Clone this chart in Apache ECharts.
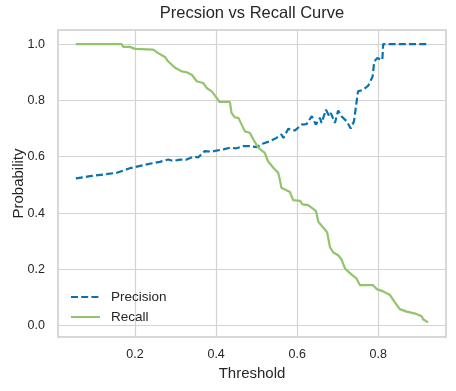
<!DOCTYPE html>
<html>
<head>
<meta charset="utf-8">
<script src="https://cdn.jsdelivr.net/npm/echarts@6/dist/echarts.min.js"></script>
<style>html,body{margin:0;padding:0;background:#fff}#c{width:456px;height:391px}</style>
</head>
<body>
<div id="c"></div>
<script>
const precisionT = [0.054,0.089,0.155,0.187,0.229,0.261,0.282,0.294,0.311,0.327,0.344,0.356,0.372,0.389,0.401,0.418,0.434,0.45,0.467,0.483,0.5,0.516,0.533,0.549,0.561,0.566,0.578,0.594,0.611,0.623,0.636,0.646,0.656,0.66,0.671,0.679,0.683,0.693,0.701,0.709,0.722,0.732,0.74,0.75,0.763,0.775,0.786,0.79,0.797,0.81,0.812,0.923];
const precisionV = [0.523,0.531,0.543,0.559,0.573,0.582,0.59,0.585,0.59,0.59,0.6,0.598,0.62,0.618,0.622,0.626,0.632,0.63,0.638,0.638,0.634,0.647,0.655,0.667,0.679,0.667,0.699,0.693,0.714,0.716,0.744,0.714,0.738,0.72,0.767,0.744,0.755,0.72,0.764,0.744,0.726,0.7,0.726,0.832,0.838,0.852,0.885,0.938,0.95,0.944,1.0,1.0];
const recallT = [0.054,0.167,0.171,0.187,0.2,0.245,0.257,0.274,0.282,0.298,0.315,0.327,0.34,0.352,0.368,0.377,0.389,0.397,0.408,0.434,0.438,0.446,0.455,0.463,0.471,0.483,0.492,0.504,0.52,0.528,0.541,0.553,0.557,0.561,0.582,0.59,0.607,0.613,0.627,0.646,0.652,0.664,0.674,0.681,0.689,0.701,0.709,0.718,0.726,0.738,0.746,0.755,0.787,0.796,0.812,0.829,0.841,0.853,0.87,0.894,0.907,0.911,0.923];
const recallV = [1.0,1.0,0.99,0.99,0.983,0.98,0.968,0.954,0.938,0.917,0.903,0.9,0.891,0.868,0.862,0.844,0.832,0.818,0.795,0.795,0.756,0.74,0.738,0.714,0.69,0.685,0.661,0.632,0.614,0.584,0.561,0.543,0.52,0.49,0.475,0.446,0.443,0.431,0.428,0.408,0.369,0.349,0.331,0.278,0.26,0.25,0.236,0.203,0.192,0.177,0.168,0.144,0.144,0.13,0.122,0.109,0.083,0.059,0.05,0.042,0.034,0.022,0.012];
const xTicks = [0.2,0.4,0.6,0.8];
const yTicks = [0.0,0.2,0.4,0.6,0.8,1.0];
const seriesNames = ['Precision','Recall'];

const font = 'Liberation Sans';
const txt = '#262626';
const zip = (a,b) => a.map((v,i)=>[v,b[i]]);
const gridLines = xTicks.map(v=>({xAxis:v})).concat(yTicks.map(v=>({yAxis:v})));

const chart = echarts.init(document.getElementById('c'), null, {renderer:'canvas'});
chart.setOption({
  animation:false,
  backgroundColor:'#ffffff',
  title:{text:'Precsion vs Recall Curve', left:252, top:5, padding:0, textAlign:'center',
    textStyle:{fontFamily:font, fontSize:16.5, fontWeight:'normal', color:txt}},
  grid:{left:58, right:10, top:30, bottom:54, outerBoundsMode:'none', containLabel:false,
    show:true, borderColor:'#cccccc', borderWidth:1.5, backgroundColor:'#fff'},
  legend:{data:seriesNames, orient:'vertical', left:70, top:290, padding:0, itemWidth:29, itemHeight:14, itemGap:6,
    itemStyle:{opacity:0},
    textStyle:{fontFamily:font, fontSize:13.5, color:txt, padding:[0,0,0,6]}},
  xAxis:{type:'value', min:0.01, max:0.967,
    name:'Threshold', nameLocation:'middle', nameGap:29, nameMoveOverlap:false,
    nameTextStyle:{fontFamily:font, fontSize:15, color:txt},
    axisLine:{show:false}, axisTick:{show:false}, splitLine:{show:false},
    axisLabel:{customValues:xTicks, formatter:v=>v.toFixed(1), margin:11, fontFamily:font, fontSize:12.5, color:txt}},
  yAxis:{type:'value', min:-0.04, max:1.05,
    name:'Probability', nameLocation:'middle', nameGap:32, nameMoveOverlap:false,
    nameTextStyle:{fontFamily:font, fontSize:15, color:txt},
    axisLine:{show:false}, axisTick:{show:false}, splitLine:{show:false},
    axisLabel:{customValues:yTicks, formatter:v=>v.toFixed(1), margin:13, fontFamily:font, fontSize:12.5, color:txt}},
  series:[
    {name:'grid', type:'line', data:[], z:0, silent:true,
      markLine:{z:0, silent:true, symbol:['none','none'], label:{show:false}, animation:false,
        lineStyle:{color:'#d3d3d3', width:1.2, type:'solid'}, emphasis:{disabled:true}, data:gridLines}},
    {name:seriesNames[0], type:'line', data:zip(precisionT, precisionV), symbol:'none', z:3,
      lineStyle:{color:'#0A72AE', width:2.2, type:[7,3.2]}, itemStyle:{color:'#0A72AE'}},
    {name:seriesNames[1], type:'line', data:zip(recallT, recallV), symbol:'none', z:3,
      lineStyle:{color:'#92C46C', width:2.2}, itemStyle:{color:'#92C46C'}}
  ]
});
</script>
</body>
</html>
